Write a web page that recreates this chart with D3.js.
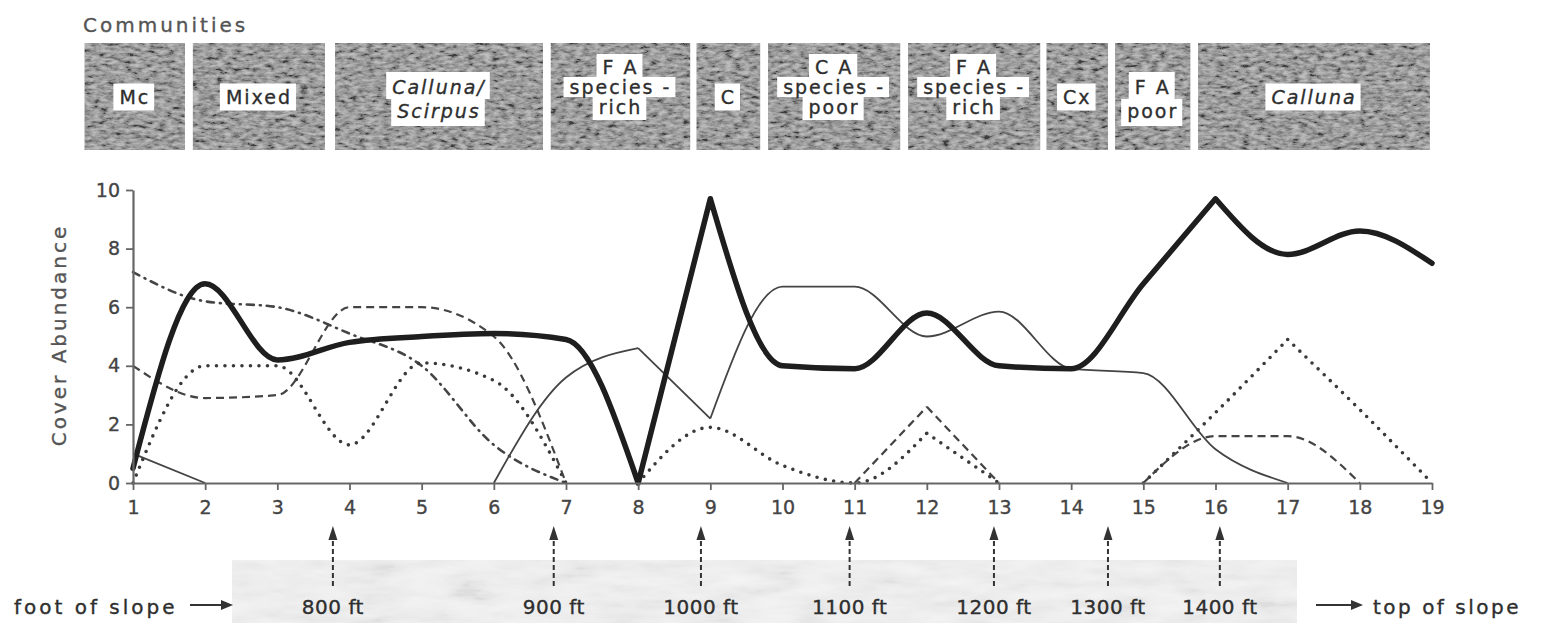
<!DOCTYPE html>
<html>
<head>
<meta charset="utf-8">
<script src="https://cdn.jsdelivr.net/npm/d3@7"></script>
<style>
body { margin: 0; background: #fff; }
text { font-family: "DejaVu Sans", sans-serif; fill: #2e2e2e; stroke: #2e2e2e; stroke-width: 0.35px; }
</style>
</head>
<body>
<svg id="chart" width="1547" height="623"></svg>
<script>
// sample stations along the transect
var samples = [1, 2, 3, 4, 5, 6, 7, 8, 9, 10, 11, 12, 13, 14, 15, 16, 17, 18, 19];

// cover abundance per species line (null = not present)
var heavySolid = [0.5, 6.8, 4.2, 4.8, 5.0, 5.1, 4.9, 0, 9.7, 4.0, 3.9, 5.8, 4.0, 3.9, 6.8, 9.7, 7.8, 8.6, 7.5];
var thinSolid  = [1.0, 0, null, null, null, 0, 3.6, 4.6, 2.2, 6.7, 6.7, 5.0, 5.85, 3.9, 3.75, 1.15, 0, null, null];
var dashed     = [4.0, 2.9, 3.0, 6.0, 6.0, 5.0, 0, null, null, null, 0, 2.6, 0, null, 0, 1.6, 1.6, 0, null];
var dotted     = [0, 4.0, 4.0, 1.3, 4.1, 3.5, 0, 0, 1.9, 0.6, 0, 1.7, 0, null, 0, 2.4, 4.9, 2.5, 0];
var dashDot    = [7.2, 6.2, 6.0, 5.1, 4.0, 1.3, 0, null, null, null, null, null, null, null, null, null, null, null, null];

var yTicks = [0, 2, 4, 6, 8, 10];

// communities: label lines and the stretch of transect they cover
var communityNames = [["Mc"], ["Mixed"], ["Calluna/", "Scirpus"], ["F A", "species -", "rich"], ["C"],
  ["C A", "species -", "poor"], ["F A", "species -", "rich"], ["Cx"], ["F A", "poor"], ["Calluna"]];
var communityFrom = [0.33, 1.83, 3.80, 6.79, 8.81, 9.80, 11.74, 13.66, 14.61, 15.76];
var communityTo   = [1.72, 3.66, 6.68, 8.72, 9.69, 11.63, 13.57, 14.51, 15.65, 18.97];

// altitude markers below the axis
var altitudeAt     = [3.77, 6.83, 8.87, 10.93, 12.93, 14.51, 16.06];
var altitudeLabels = ["800 ft", "900 ft", "1000 ft", "1100 ft", "1200 ft", "1300 ft", "1400 ft"];

var svg = d3.select("#chart");
var x = d3.scaleLinear().domain([1, 19]).range([133, 1432]);
var y = d3.scaleLinear().domain([0, 10]).range([483, 190]);

// grainy texture for the printed tone boxes
var defs = svg.append("defs");
function grainFilter(id, freq, slope, intercept, seed) {
  var f = defs.append("filter").attr("id", id)
    .attr("x", 0).attr("y", 0).attr("width", "100%").attr("height", "100%");
  f.append("feTurbulence").attr("type", "fractalNoise").attr("baseFrequency", freq)
    .attr("numOctaves", 4).attr("seed", seed).attr("result", "noise");
  f.append("feColorMatrix").attr("in", "noise").attr("type", "saturate").attr("values", 0).attr("result", "grey");
  var ct = f.append("feComponentTransfer").attr("in", "grey").attr("result", "contrast");
  ["feFuncR", "feFuncG", "feFuncB"].forEach(function(fn) {
    ct.append(fn).attr("type", "linear").attr("slope", slope).attr("intercept", intercept);
  });
  ct.append("feFuncA").attr("type", "linear").attr("slope", 0).attr("intercept", 1);
  f.append("feComposite").attr("in", "contrast").attr("in2", "SourceGraphic").attr("operator", "in");
}
grainFilter("grain", "0.12 0.28", 2.4, -0.7, 4);
grainFilter("smudge", "0.02 0.08", 2.0, -0.5, 9);

// faint tone band behind the altitude labels
svg.append("rect").attr("x", 232).attr("y", 560).attr("width", 1065).attr("height", 63)
  .attr("fill", "#f2f2f2");
svg.append("rect").attr("x", 232).attr("y", 560).attr("width", 1065).attr("height", 63)
  .attr("fill", "#000").attr("filter", "url(#smudge)").attr("opacity", 0.08);

// community header
svg.append("text").attr("x", 83).attr("y", 32).text("Communities")
  .style("font-size", "20px").style("letter-spacing", "3px").style("fill", "#555").style("stroke", "#555");

var boxTop = 43, boxBottom = 150;
var comm = svg.append("g").selectAll("g").data(communityNames).enter().append("g");
comm.append("rect")
  .attr("x", function(d, i) { return x(communityFrom[i]); })
  .attr("y", boxTop)
  .attr("width", function(d, i) { return x(communityTo[i]) - x(communityFrom[i]); })
  .attr("height", boxBottom - boxTop)
  .attr("fill", "#7c7c7c");
comm.append("rect")
  .attr("x", function(d, i) { return x(communityFrom[i]); })
  .attr("y", boxTop)
  .attr("width", function(d, i) { return x(communityTo[i]) - x(communityFrom[i]); })
  .attr("height", boxBottom - boxTop)
  .attr("fill", "#000").attr("filter", "url(#grain)").attr("opacity", 0.5);

comm.each(function(lines, i) {
  var g = d3.select(this);
  var cx = (x(communityFrom[i]) + x(communityTo[i])) / 2;
  var step = lines.length == 3 ? 20 : 24;
  var mid = lines.length == 3 ? 87 : (lines.length == 2 ? 99 : 97);
  var italic = lines[0].indexOf("Calluna") == 0;
  lines.forEach(function(line, j) {
    var cy = mid + (j - (lines.length - 1) / 2) * step;
    var bg = g.append("rect").attr("fill", "#fff");
    var t = g.append("text").attr("x", cx).attr("y", cy).attr("dy", "0.36em")
      .attr("text-anchor", "middle").text(line)
      .style("font-size", "19px").style("letter-spacing", "2px")
      .style("font-style", italic ? "italic" : "normal");
    var w = t.node().getComputedTextLength();
    var h = lines.length == 1 ? 27 : step;
    var padTop = (j == 0 && lines.length > 1) ? 3 : 0;
    var padBot = (j == lines.length - 1 && lines.length > 1) ? 3 : 0;
    bg.attr("x", cx - w / 2 - 6).attr("width", w + 10)
      .attr("y", cy - h / 2 - padTop).attr("height", h + padTop + padBot);
  });
});

// species lines: smooth between sharp corners, skip gaps and runs along zero
var line = d3.line()
  .x(function(d) { return x(d.s); })
  .y(function(d) { return y(d.v); })
  .curve(d3.curveMonotoneX);

function seriesPath(arr, corners) {
  var d = "", seg = [];
  function flush() { if (seg.length > 1) d += line(seg); seg = []; }
  samples.forEach(function(s, i) {
    var v = arr[i];
    if (v == null) { flush(); return; }
    if (seg.length && seg[seg.length - 1].v == 0 && v == 0) flush();
    seg.push({ s: s, v: v });
    if (corners.indexOf(s) >= 0) { flush(); seg.push({ s: s, v: v }); }
  });
  flush();
  return d;
}

var plot = svg.append("g").attr("fill", "none");
plot.append("path").attr("d", seriesPath(dashDot, [])).attr("stroke", "#444").attr("stroke-width", 2.6)
  .attr("stroke-dasharray", "7,6,1,6").attr("stroke-linecap", "round");
plot.append("path").attr("d", seriesPath(dotted, [12, 17])).attr("stroke", "#3a3a3a").attr("stroke-width", 3.6)
  .attr("stroke-dasharray", "0,8.5").attr("stroke-linecap", "round");
plot.append("path").attr("d", seriesPath(dashed, [12])).attr("stroke", "#444").attr("stroke-width", 2.2)
  .attr("stroke-dasharray", "8,5");
plot.append("path").attr("d", seriesPath(thinSolid, [8, 9])).attr("stroke", "#444").attr("stroke-width", 1.8)
  .attr("stroke-linejoin", "round");
plot.append("path").attr("d", seriesPath(heavySolid, [8, 9, 16])).attr("stroke", "#1e1e1e").attr("stroke-width", 5.5)
  .attr("stroke-linejoin", "round").attr("stroke-linecap", "round");

// axes
var yAxis = svg.append("g").attr("transform", "translate(133,0)")
  .call(d3.axisLeft(y).tickValues(yTicks).tickSize(7).tickSizeOuter(0).tickPadding(6));
var xAxis = svg.append("g").attr("transform", "translate(0,483)")
  .call(d3.axisBottom(x).tickValues(samples).tickFormat(d3.format("d")).tickSize(7).tickSizeOuter(0).tickPadding(11));
[yAxis, xAxis].forEach(function(a) {
  a.select(".domain").attr("stroke", "#666").attr("stroke-width", 2.2);
  a.selectAll(".tick line").attr("stroke", "#666").attr("stroke-width", 1.8);
  a.selectAll(".tick text").style("font-size", "19px").style("fill", "#444").style("stroke", "#444")
    .style("stroke-width", "0.35px").style("font-family", "'DejaVu Sans', sans-serif");
});

svg.append("text").attr("transform", "translate(66,335) rotate(-90)")
  .attr("text-anchor", "middle").text("Cover  Abundance")
  .style("font-size", "20px").style("letter-spacing", "3px").style("fill", "#555").style("stroke", "#555");

// altitude arrows
var alt = svg.append("g").selectAll("g").data(altitudeAt).enter().append("g")
  .attr("transform", function(d) { return "translate(" + x(d) + ",0)"; });
alt.append("line").attr("x1", 0).attr("x2", 0).attr("y1", 586).attr("y2", 536)
  .attr("stroke", "#333").attr("stroke-width", 2).attr("stroke-dasharray", "5,3");
alt.append("path").attr("d", "M0,526L-4.5,540L4.5,540Z").attr("fill", "#333");
alt.append("text").attr("y", 614).attr("text-anchor", "middle")
  .text(function(d, i) { return altitudeLabels[i]; })
  .style("font-size", "20px").style("letter-spacing", "0.5px");

// slope direction notes
svg.append("text").attr("x", 14).attr("y", 614).text("foot of slope")
  .style("font-size", "20px").style("letter-spacing", "3px");
svg.append("line").attr("x1", 190).attr("x2", 222).attr("y1", 605).attr("y2", 605)
  .attr("stroke", "#333").attr("stroke-width", 2);
svg.append("path").attr("d", "M233,605L221,600L221,610Z").attr("fill", "#333");

svg.append("line").attr("x1", 1316).attr("x2", 1352).attr("y1", 605).attr("y2", 605)
  .attr("stroke", "#333").attr("stroke-width", 2);
svg.append("path").attr("d", "M1363,605L1351,600L1351,610Z").attr("fill", "#333");
svg.append("text").attr("x", 1373).attr("y", 614).text("top of slope")
  .style("font-size", "20px").style("letter-spacing", "2.5px");
</script>
</body>
</html>
